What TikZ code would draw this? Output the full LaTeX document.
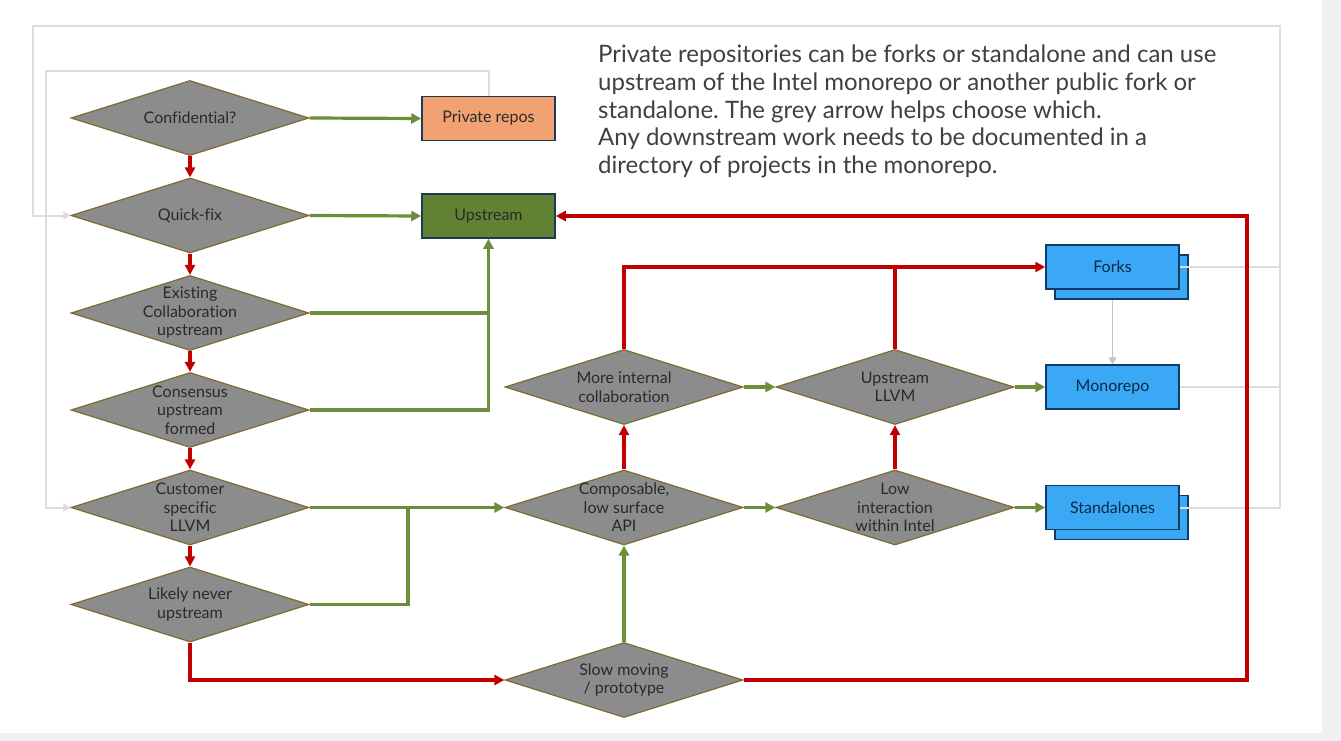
\documentclass[tikz,border=0pt]{standalone}
\usepackage{fontspec}
\setmainfont{Lato}[Ligatures=NoCommon]
\frenchspacing
\usetikzlibrary{arrows.meta,shapes.geometric,shadows}
\definecolor{diafill}{HTML}{8C8C8C}
\definecolor{diaedge}{HTML}{7F6B2D}
\definecolor{gr}{HTML}{6B8E3A}
\definecolor{rd}{HTML}{C00000}
\definecolor{upfill}{HTML}{618232}
\definecolor{boxedge}{HTML}{1F3B52}
\definecolor{privfill}{HTML}{F2A172}
\definecolor{bluefill}{HTML}{3BA8F5}
\definecolor{blueedge}{HTML}{0F3B66}
\definecolor{lgrey}{HTML}{DCDCDC}
\definecolor{mgrey}{HTML}{C4C4C4}
\definecolor{stripgrey}{HTML}{F0F0F0}
\definecolor{txt}{HTML}{2A2A2A}
\definecolor{bodytxt}{HTML}{404040}
\begin{document}
\begin{tikzpicture}[x=1pt,y=-1pt,
  dia/.style={diamond, draw=diaedge, line width=1.2pt, fill=diafill,
    minimum width=238pt, minimum height=75pt, inner sep=0pt},
  dlab/.style={align=center, font=\fontsize{16}{18.5}\selectfont, text=txt, inner sep=0pt},
  box/.style={rectangle, minimum width=133pt, minimum height=44pt, inner sep=0pt,
    line width=1.5pt, font=\fontsize{16}{18}\selectfont},
  bluebox/.style={box, fill=bluefill, draw=blueedge, text=blueedge!70!black},
  dblbox/.style={bluebox, copy shadow={shadow xshift=9pt, shadow yshift=-10pt}},
  tipbig/.style={-{Triangle[length=10pt,width=10pt]}},
  gline/.style={draw=gr, line width=3.2pt},
  rline/.style={draw=rd, line width=3.2pt},
  greyline/.style={draw=lgrey, line width=2pt},
  bodyline/.style={anchor=base west, inner sep=0pt, font=\fontsize{24}{27.6}\selectfont, text=bodytxt}
]
\useasboundingbox (0,0) rectangle (1341,741);
\fill[white] (0,0) rectangle (1341,741);
\fill[stripgrey] (1322,0) rectangle (1341,741);
\fill[stripgrey] (0,733) rectangle (1341,741);

% text block
\node[bodyline] (t1) at (598,63) {Private repositories can be forks or standalone and can use};
\node[bodyline] (t2) at (598,91) {upstream of the Intel monorepo or another public fork or};
\node[bodyline] (t3) at (598,118.5) {standalone. The grey arrow helps choose which.};
\node[bodyline] (t4) at (598,146) {Any downstream work needs to be documented in a};
\node[bodyline] (t5) at (598,173.5) {directory of projects in the monorepo.};

% left column diamonds
\node[dia] (conf) at (190,118) {};
\node[dlab] (conf-t) at (conf) {Confidential?};
\node[dia] (qf) at (190,215.5) {};
\node[dlab] (qf-t) at (qf) {Quick-fix};
\node[dia] (exist) at (190,313) {};
\node[dlab] (exist-t) at (exist) {Existing\\Collaboration\\upstream};
\node[dia] (cons) at (190,410) {};
\node[dlab] (cons-t) at (cons) {Consensus\\upstream\\formed};
\node[dia] (cust) at (190,507.5) {};
\node[dlab] (cust-t) at (cust) {Customer\\specific\\LLVM};
\node[dia] (likely) at (190,604.5) {};
\node[dlab] (likely-t) at (likely) {Likely never\\upstream};

% middle diamonds
\node[dia] (more) at (624,387) {};
\node[dlab] (more-t) at (more) {More internal\\collaboration};
\node[dia] (ullvm) at (895,387) {};
\node[dlab] (ullvm-t) at (ullvm) {Upstream\\LLVM};
\node[dia] (comp) at (624,507.5) {};
\node[dlab] (comp-t) at (comp) {Composable,\\low surface\\API};
\node[dia] (low) at (895,507.5) {};
\node[dlab] (low-t) at (low) {Low\\interaction\\within Intel};
\node[dia] (slow) at (624,680) {};
\node[dlab] (slow-t) at (slow) {Slow moving\\/ prototype};

% boxes
\node[box, fill=privfill, draw=boxedge, text=txt] (priv) at (488.5,118.5) {Private repos};
\node[box, fill=upfill, draw=boxedge, text=txt] (up) at (488.5,216) {Upstream};
\node[dblbox] (forks) at (1112.5,267) {Forks};
\node[bluebox] (mono) at (1112.5,387) {Monorepo};
\node[dblbox] (stand) at (1112.5,507.5) {Standalones};

% coordinates
\coordinate (g1) at (1280,26);
\coordinate (g2) at (33,26);
\coordinate (g3) at (46,71);
\coordinate (j2) at (408,507.5);
\coordinate (rc) at (1247,216);

% grey loops
\draw[greyline] (forks.east) -- (forks.east -| g1);
\draw[greyline] (mono.east) -- (mono.east -| g1);
\draw[greyline, -{Triangle[length=7pt,width=8pt]}] (stand.east) -| (g1) -- (g2) |- (qf.west);
\draw[greyline, -{Triangle[length=7pt,width=8pt]}] (priv.north) |- (g3) |- (cust.west);
\draw[draw=mgrey, line width=1.5pt, -{Triangle[length=7pt,width=8pt]}] ([yshift=-10pt]forks.south) -- (mono.north);

% red down chain
\draw[rline, tipbig] (conf.south) -- (qf.north);
\draw[rline, tipbig] (qf.south) -- (exist.north);
\draw[rline, tipbig] (exist.south) -- (cons.north);
\draw[rline, tipbig] (cons.south) -- (cust.north);
\draw[rline, tipbig] (cust.south) -- (likely.north);

% green to boxes
\draw[gline, tipbig] (conf.east) -- (priv.west);
\draw[gline, tipbig] (qf.east) -- (up.west);
\draw[gline, tipbig] (exist.east) -| (up.south);
\draw[gline] (cons.east) -| (exist.east -| up.south);

% lower flow
\draw[gline, tipbig] (cust.east) -- (comp.west);
\draw[gline] (likely.east) -| (j2);
\draw[rline, tipbig] (likely.south) |- (slow.west);
\draw[gline, tipbig] (slow.north) -- (comp.south);
\draw[rline, tipbig] (comp.north) -- (more.south);
\draw[rline, tipbig] (low.north) -- (ullvm.south);
\draw[gline, tipbig] (more.east) -- (ullvm.west);
\draw[gline, tipbig] (comp.east) -- (low.west);
\draw[gline, tipbig] (ullvm.east) -- (mono.west);
\draw[gline, tipbig] (low.east) -- (stand.west);
\draw[rline, tipbig] (more.north) |- (forks.west);
\draw[rline] (ullvm.north) -- (ullvm.north |- forks.west);
\draw[rline, tipbig] (slow.east) -| (rc) -- (up.east);
\end{tikzpicture}
\end{document}
